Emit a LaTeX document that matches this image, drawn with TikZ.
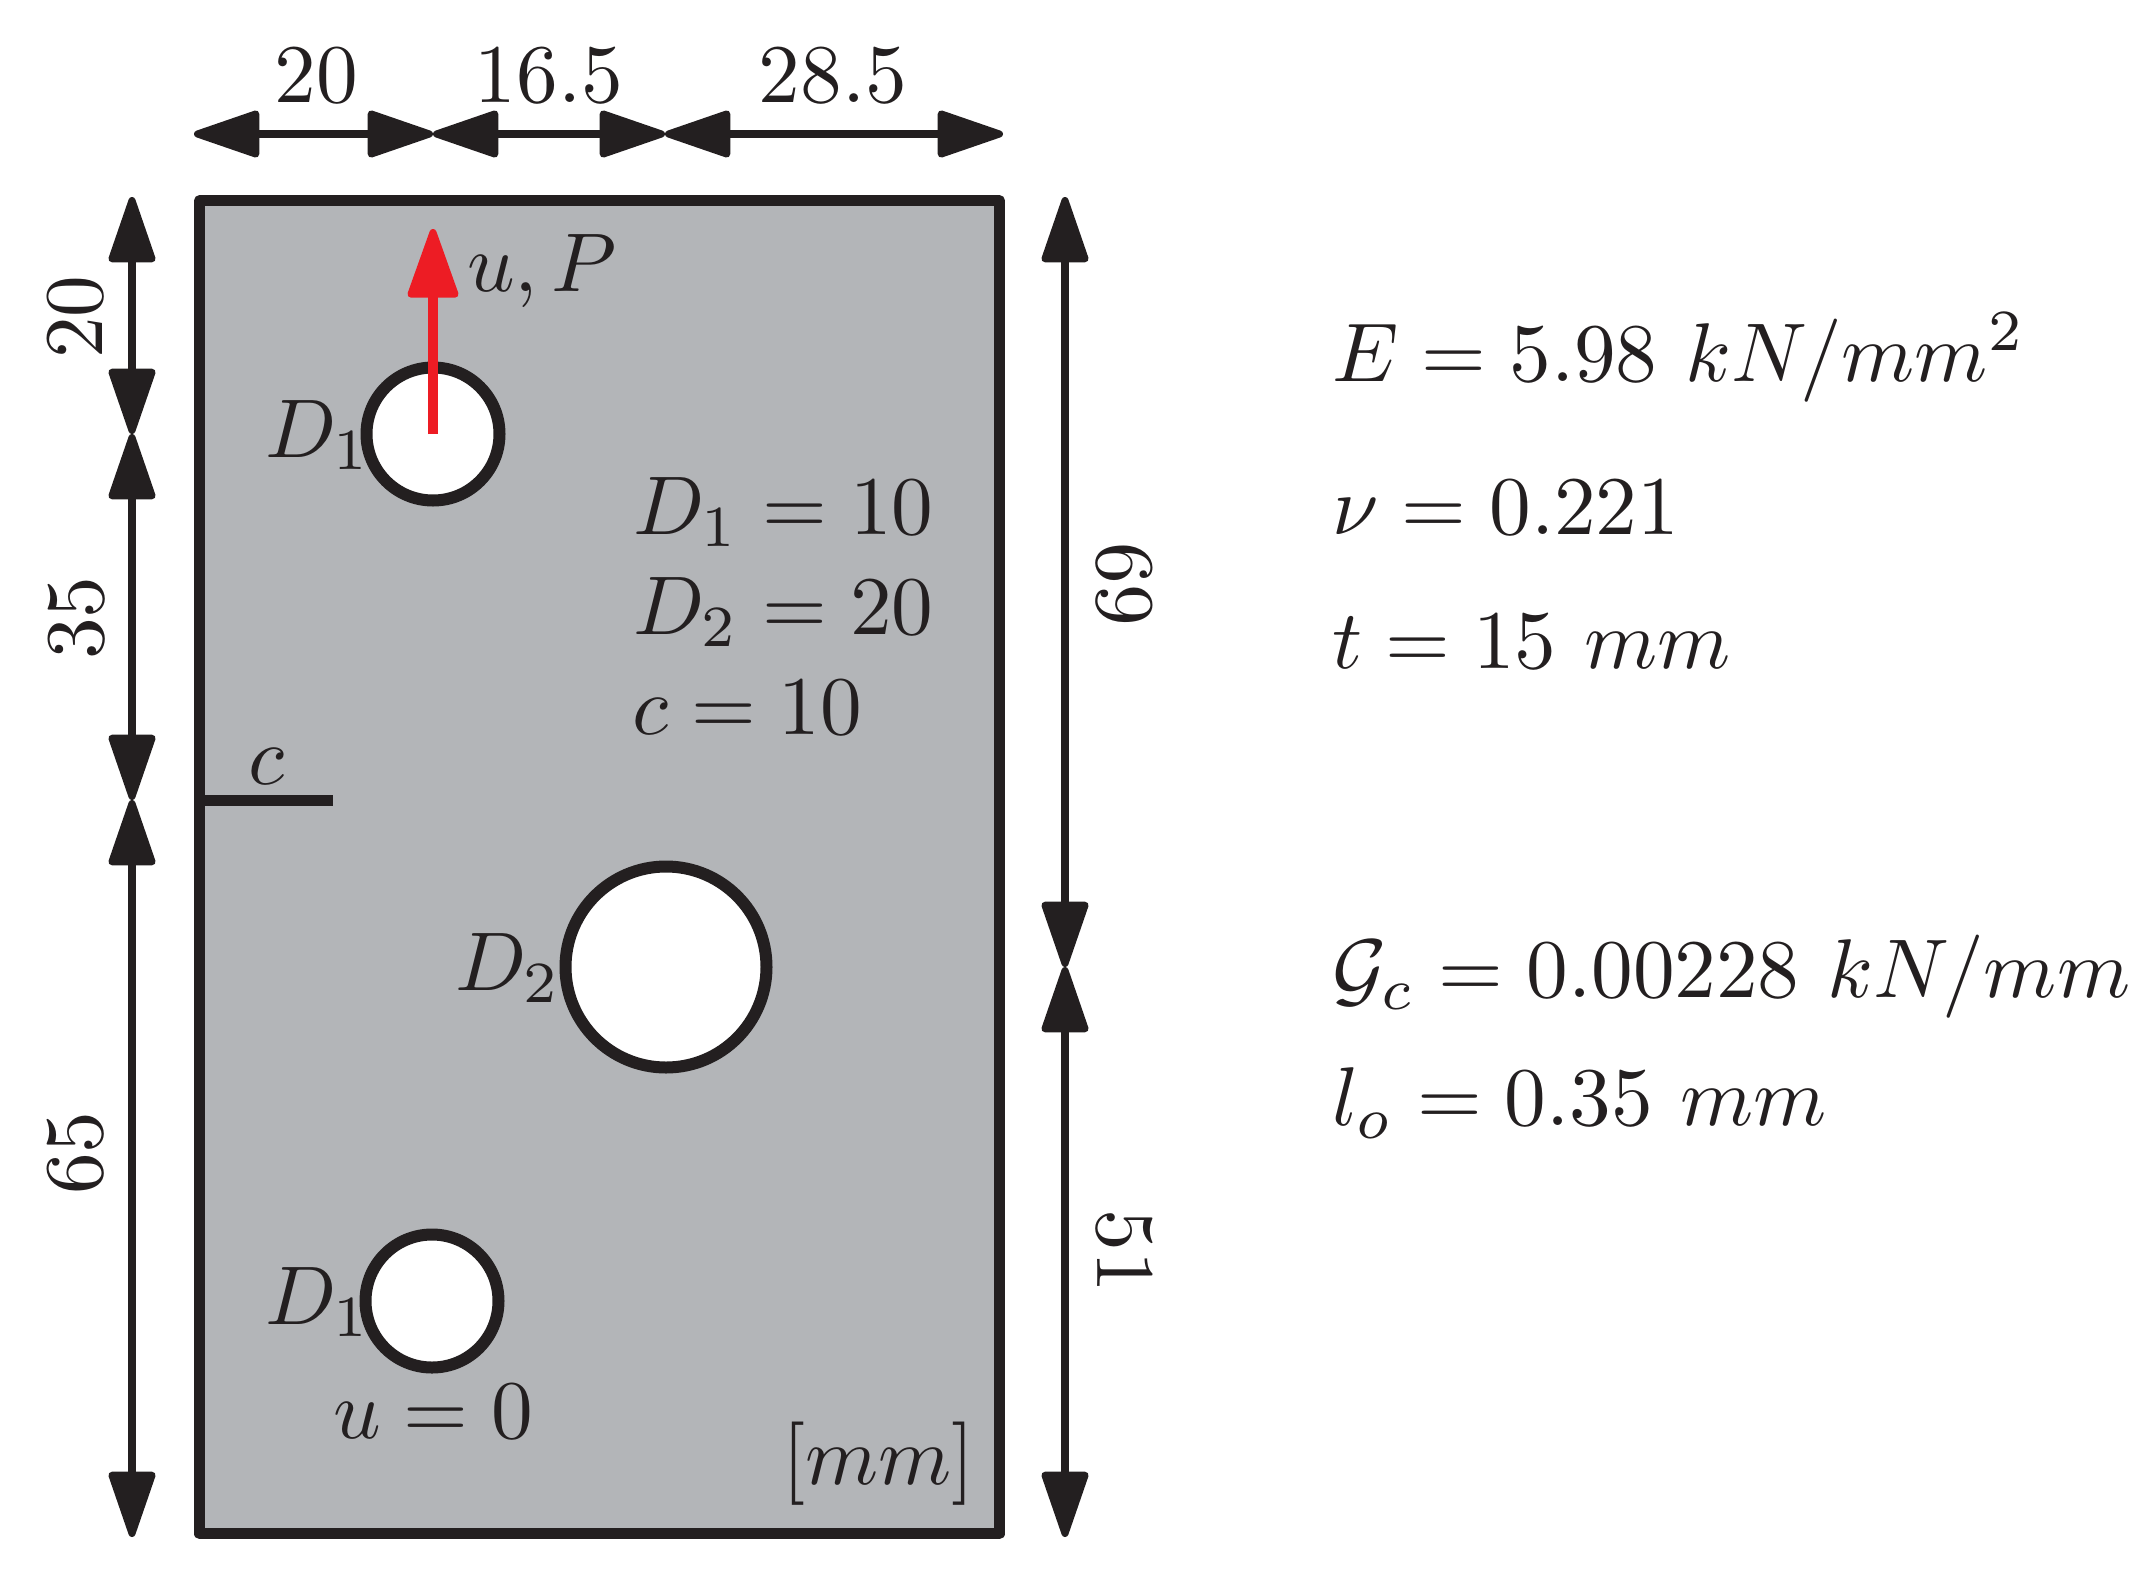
\documentclass[tikz,border=0pt]{standalone}
\usetikzlibrary{arrows.meta}
\definecolor{ink}{HTML}{231F20}
\definecolor{plategray}{HTML}{B3B5B8}
\definecolor{loadred}{HTML}{ED1C24}
\tikzset{
  lab/.style={inner sep=0pt,outer sep=0pt,scale=8.33,text=ink},
  txt/.style={lab,anchor=base west},
  dimh/.style={lab,anchor=base},
  diml/.style={lab,anchor=base,rotate=90},
  dimr/.style={lab,anchor=base,rotate=-90},
  dimline/.style={draw=ink,line width=8pt,
    {Triangle[length=73pt,width=48pt,round,line width=7pt]}-{Triangle[length=73pt,width=48pt,round,line width=7pt]}},
  hole/.style={circle,draw=ink,fill=white,line width=12pt,inner sep=0pt,outer sep=0pt},
}
\begin{document}
\begin{tikzpicture}[x=1pt,y=-1pt]
\path[use as bounding box] (0,0) rectangle (2154,1590);
% plate
\node[rectangle,draw=ink,fill=plategray,line width=11pt,line join=round,inner sep=0pt,outer sep=0pt,
      minimum width=800pt,minimum height=1333pt] (plate) at (599.5,867.25) {};
% holes
\node[hole,minimum size=133pt] (h1) at (433,434) {};
\node[hole,minimum size=201pt] (h2) at (666,967) {};
\node[hole,minimum size=133pt] (h3) at (432,1301) {};
% crack
\coordinate (c1) at (199,800);
\coordinate (c2) at (333,800);
\draw[draw=ink,line width=11pt] (c1) -- (c2);
% top dimensions
\coordinate (t0) at (194,134);
\coordinate (t1) at (433,134);
\coordinate (t2) at (665,134);
\coordinate (t3) at (1003,134);
\draw[dimline] (t0) -- (t1);
\draw[dimline] (t1) -- (t2);
\draw[dimline] (t2) -- (t3);
% left dimensions
\coordinate (l0) at (132,197);
\coordinate (l1) at (132,434);
\coordinate (l2) at (132,800);
\coordinate (l3) at (132,1537);
\draw[dimline] (l0) -- (l1);
\draw[dimline] (l1) -- (l2);
\draw[dimline] (l2) -- (l3);
% right dimensions
\coordinate (r0) at (1065,197);
\coordinate (r1) at (1065,967);
\coordinate (r2) at (1065,1537);
\draw[dimline] (r0) -- (r1);
\draw[dimline] (r1) -- (r2);
% load arrow
\coordinate (ptop) at (433,229);
\draw[draw=loadred,line width=10pt,-{Triangle[length=76pt,width=52pt,round,line width=7pt]}] (h1.center) -- (ptop);
% labels
\node[dimh] (d1) at (316,102) {$20$};
\node[dimh] (d2) at (549,102) {$16.5$};
\node[dimh] (d3) at (833,102) {$28.5$};
\node[diml] (d4) at (102,317) {$20$};
\node[diml] (d5) at (103,618) {$35$};
\node[diml] (d6) at (102,1153) {$65$};
\node[dimr] (d7) at (1097,584) {$69$};
\node[dimr] (d8) at (1097,1251) {$51$};
\node[txt] (a1) at (467,291) {$u,P$};
\node[txt] (a2) at (265,457) {$D_1$};
\node[txt] (a3) at (455,990) {$D_2$};
\node[txt] (a4) at (265,1324) {$D_1$};
\node[txt] (a5) at (248,784) {$c$};
\node[txt] (a6) at (333,1438) {$u=0$};
\node[txt] (a7) at (782,1484) {$[mm]$};
\node[txt] (a8) at (633,534) {$D_1=10$};
\node[txt] (a9) at (633,634) {$D_2=20$};
\node[txt] (a10) at (632,734) {$c=10$};
\node[txt] (b1) at (1332,381) {$E=5.98\ kN/mm^2$};
\node[txt] (b2) at (1332,534) {$\nu=0.221$};
\node[txt] (b3) at (1332,668) {$t=15\ mm$};
\node[txt] (b4) at (1332,997) {$\mathcal{G}_c=0.00228\ kN/mm$};
\node[txt] (b5) at (1332,1125.5) {$l_o=0.35\ mm$};
\end{tikzpicture}
\end{document}
